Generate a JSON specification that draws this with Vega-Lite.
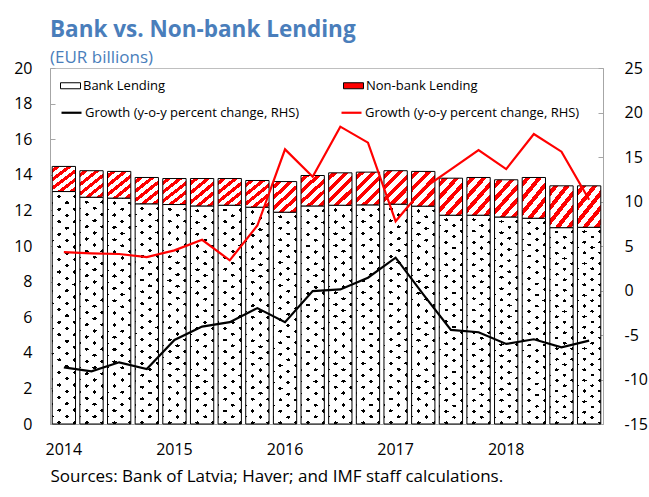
{
  "$schema": "https://vega.github.io/schema/vega-lite/v6.json",
  "width": 553,
  "height": 356,
  "autosize": {"type": "none"},
  "padding": {"left": 50, "top": 68, "right": 46, "bottom": 73},
  "background": "white",
  "config": {
    "font": "Open Sans",
    "view": {"stroke": "#bfbfbf", "strokeWidth": 1},
    "axis": {"grid": false, "labelFont": "Open Sans", "titleFont": "Open Sans", "labelColor": "#000", "labelFontSize": 16, "domainColor": "#a6a6a6", "tickColor": "#a6a6a6"},
    "legend": {"labelFont": "Open Sans", "labelColor": "#000", "labelFontSize": 13, "padding": 0, "labelLimit": 400}
  },
  "title": {
    "text": "Bank vs. Non-bank Lending",
    "subtitle": "(EUR billions)",
    "anchor": "start",
    "frame": "group",
    "font": "Open Sans",
    "fontSize": 22.5,
    "fontWeight": "bold",
    "color": "#4A7EBB",
    "subtitleFont": "Open Sans",
    "subtitleFontSize": 17,
    "subtitleColor": "#4A7EBB",
    "subtitlePadding": 9,
    "offset": -6
  },
  "datasets": {
    "lending": [
      {"q": "2014Q1", "s": "Bank Lending", "v": 13.06}, {"q": "2014Q1", "s": "Non-bank Lending", "v": 1.41},
      {"q": "2014Q2", "s": "Bank Lending", "v": 12.74}, {"q": "2014Q2", "s": "Non-bank Lending", "v": 1.49},
      {"q": "2014Q3", "s": "Bank Lending", "v": 12.69}, {"q": "2014Q3", "s": "Non-bank Lending", "v": 1.50},
      {"q": "2014Q4", "s": "Bank Lending", "v": 12.37}, {"q": "2014Q4", "s": "Non-bank Lending", "v": 1.48},
      {"q": "2015Q1", "s": "Bank Lending", "v": 12.33}, {"q": "2015Q1", "s": "Non-bank Lending", "v": 1.46},
      {"q": "2015Q2", "s": "Bank Lending", "v": 12.25}, {"q": "2015Q2", "s": "Non-bank Lending", "v": 1.54},
      {"q": "2015Q3", "s": "Bank Lending", "v": 12.29}, {"q": "2015Q3", "s": "Non-bank Lending", "v": 1.50},
      {"q": "2015Q4", "s": "Bank Lending", "v": 12.18}, {"q": "2015Q4", "s": "Non-bank Lending", "v": 1.50},
      {"q": "2016Q1", "s": "Bank Lending", "v": 11.90}, {"q": "2016Q1", "s": "Non-bank Lending", "v": 1.72},
      {"q": "2016Q2", "s": "Bank Lending", "v": 12.25}, {"q": "2016Q2", "s": "Non-bank Lending", "v": 1.71},
      {"q": "2016Q3", "s": "Bank Lending", "v": 12.29}, {"q": "2016Q3", "s": "Non-bank Lending", "v": 1.82},
      {"q": "2016Q4", "s": "Bank Lending", "v": 12.31}, {"q": "2016Q4", "s": "Non-bank Lending", "v": 1.84},
      {"q": "2017Q1", "s": "Bank Lending", "v": 12.35}, {"q": "2017Q1", "s": "Non-bank Lending", "v": 1.88},
      {"q": "2017Q2", "s": "Bank Lending", "v": 12.24}, {"q": "2017Q2", "s": "Non-bank Lending", "v": 1.95},
      {"q": "2017Q3", "s": "Bank Lending", "v": 11.73}, {"q": "2017Q3", "s": "Non-bank Lending", "v": 2.08},
      {"q": "2017Q4", "s": "Bank Lending", "v": 11.73}, {"q": "2017Q4", "s": "Non-bank Lending", "v": 2.12},
      {"q": "2018Q1", "s": "Bank Lending", "v": 11.63}, {"q": "2018Q1", "s": "Non-bank Lending", "v": 2.09},
      {"q": "2018Q2", "s": "Bank Lending", "v": 11.56}, {"q": "2018Q2", "s": "Non-bank Lending", "v": 2.29},
      {"q": "2018Q3", "s": "Bank Lending", "v": 11.03}, {"q": "2018Q3", "s": "Non-bank Lending", "v": 2.35},
      {"q": "2018Q4", "s": "Bank Lending", "v": 11.05}, {"q": "2018Q4", "s": "Non-bank Lending", "v": 2.33}
    ],
    "growth": [
      {"q": "2014Q1", "s": "bank", "v": -8.63}, {"q": "2014Q1", "s": "nonbank", "v": 4.32},
      {"q": "2014Q2", "s": "bank", "v": -9.08}, {"q": "2014Q2", "s": "nonbank", "v": 4.18},
      {"q": "2014Q3", "s": "bank", "v": -8.07}, {"q": "2014Q3", "s": "nonbank", "v": 4.10},
      {"q": "2014Q4", "s": "bank", "v": -8.82}, {"q": "2014Q4", "s": "nonbank", "v": 3.76},
      {"q": "2015Q1", "s": "bank", "v": -5.55}, {"q": "2015Q1", "s": "nonbank", "v": 4.51},
      {"q": "2015Q2", "s": "bank", "v": -4.05}, {"q": "2015Q2", "s": "nonbank", "v": 5.70},
      {"q": "2015Q3", "s": "bank", "v": -3.56}, {"q": "2015Q3", "s": "nonbank", "v": 3.39},
      {"q": "2015Q4", "s": "bank", "v": -1.98}, {"q": "2015Q4", "s": "nonbank", "v": 7.30},
      {"q": "2016Q1", "s": "bank", "v": -3.56}, {"q": "2016Q1", "s": "nonbank", "v": 15.86},
      {"q": "2016Q2", "s": "bank", "v": -0.07}, {"q": "2016Q2", "s": "nonbank", "v": 12.78},
      {"q": "2016Q3", "s": "bank", "v": 0.12}, {"q": "2016Q3", "s": "nonbank", "v": 18.41},
      {"q": "2016Q4", "s": "bank", "v": 1.44}, {"q": "2016Q4", "s": "nonbank", "v": 16.61},
      {"q": "2017Q1", "s": "bank", "v": 3.69}, {"q": "2017Q1", "s": "nonbank", "v": 7.78},
      {"q": "2017Q2", "s": "bank", "v": -0.44}, {"q": "2017Q2", "s": "nonbank", "v": 11.46},
      {"q": "2017Q3", "s": "bank", "v": -4.42}, {"q": "2017Q3", "s": "nonbank", "v": 13.60},
      {"q": "2017Q4", "s": "bank", "v": -4.69}, {"q": "2017Q4", "s": "nonbank", "v": 15.78},
      {"q": "2018Q1", "s": "bank", "v": -6.00}, {"q": "2018Q1", "s": "nonbank", "v": 13.64},
      {"q": "2018Q2", "s": "bank", "v": -5.48}, {"q": "2018Q2", "s": "nonbank", "v": 17.59},
      {"q": "2018Q3", "s": "bank", "v": -6.38}, {"q": "2018Q3", "s": "nonbank", "v": 15.60},
      {"q": "2018Q4", "s": "bank", "v": -5.63}, {"q": "2018Q4", "s": "nonbank", "v": 10.20}
    ]
  },
  "encoding": {
    "x": {
      "field": "q",
      "type": "ordinal",
      "scale": {"paddingInner": 0.157, "paddingOuter": 0.08},
      "title": "Sources: Bank of Latvia; Haver; and IMF staff calculations.",
      "axis": {
        "labelExpr": "indexof(datum.value,'Q1')>0 ? substring(datum.value,0,4) : ''",
        "labelAngle": 0,
        "ticks": false,
        "tickSize": 0,
        "labelPadding": 17,
        "labelFontSize": 16,
        "titleAnchor": "start",
        "titleFontWeight": "normal",
        "titleFontSize": 17,
        "titleColor": "#000",
        "titlePadding": 11
      }
    }
  },
  "layer": [
    {
      "data": {"name": "lending"},
      "transform": [
        {"stack": "v", "groupby": ["q"], "sort": [{"field": "s", "order": "ascending"}], "as": ["v0", "v1"]}
      ],
      "encoding": {
        "y": {
          "field": "v0",
          "type": "quantitative",
          "scale": {"domain": [0, 20]},
          "axis": {"orient": "left", "values": [0, 2, 4, 6, 8, 10, 12, 14, 16, 18, 20], "tickSize": -5, "labelPadding": 23, "title": null}
        },
        "y2": {"field": "v1"}
      },
      "layer": [
        {
          "transform": [{"filter": "datum.s === 'Bank Lending'"}],
          "mark": {
            "type": "bar",
            "strokeWidth": 0,
            "fill": {
              "gradient": "linear", "x1": 0, "y1": 1, "x2": 0.0865, "y2": -0.0735,
              "stops": [
                {"offset": 0, "color": "#fff"},
                {"offset": 0.02, "color": "#fff"}, {"offset": 0.02, "color": "#000"}, {"offset": 0.035, "color": "#000"}, {"offset": 0.035, "color": "#fff"},
                {"offset": 0.07, "color": "#fff"}, {"offset": 0.07, "color": "#000"}, {"offset": 0.085, "color": "#000"}, {"offset": 0.085, "color": "#fff"},
                {"offset": 0.12, "color": "#fff"}, {"offset": 0.12, "color": "#000"}, {"offset": 0.135, "color": "#000"}, {"offset": 0.135, "color": "#fff"},
                {"offset": 0.17, "color": "#fff"}, {"offset": 0.17, "color": "#000"}, {"offset": 0.185, "color": "#000"}, {"offset": 0.185, "color": "#fff"},
                {"offset": 0.22, "color": "#fff"}, {"offset": 0.22, "color": "#000"}, {"offset": 0.235, "color": "#000"}, {"offset": 0.235, "color": "#fff"},
                {"offset": 0.27, "color": "#fff"}, {"offset": 0.27, "color": "#000"}, {"offset": 0.285, "color": "#000"}, {"offset": 0.285, "color": "#fff"},
                {"offset": 0.32, "color": "#fff"}, {"offset": 0.32, "color": "#000"}, {"offset": 0.335, "color": "#000"}, {"offset": 0.335, "color": "#fff"},
                {"offset": 0.37, "color": "#fff"}, {"offset": 0.37, "color": "#000"}, {"offset": 0.385, "color": "#000"}, {"offset": 0.385, "color": "#fff"},
                {"offset": 0.42, "color": "#fff"}, {"offset": 0.42, "color": "#000"}, {"offset": 0.435, "color": "#000"}, {"offset": 0.435, "color": "#fff"},
                {"offset": 0.47, "color": "#fff"}, {"offset": 0.47, "color": "#000"}, {"offset": 0.485, "color": "#000"}, {"offset": 0.485, "color": "#fff"},
                {"offset": 0.52, "color": "#fff"}, {"offset": 0.52, "color": "#000"}, {"offset": 0.535, "color": "#000"}, {"offset": 0.535, "color": "#fff"},
                {"offset": 0.57, "color": "#fff"}, {"offset": 0.57, "color": "#000"}, {"offset": 0.585, "color": "#000"}, {"offset": 0.585, "color": "#fff"},
                {"offset": 0.62, "color": "#fff"}, {"offset": 0.62, "color": "#000"}, {"offset": 0.635, "color": "#000"}, {"offset": 0.635, "color": "#fff"},
                {"offset": 0.67, "color": "#fff"}, {"offset": 0.67, "color": "#000"}, {"offset": 0.685, "color": "#000"}, {"offset": 0.685, "color": "#fff"},
                {"offset": 0.72, "color": "#fff"}, {"offset": 0.72, "color": "#000"}, {"offset": 0.735, "color": "#000"}, {"offset": 0.735, "color": "#fff"},
                {"offset": 0.77, "color": "#fff"}, {"offset": 0.77, "color": "#000"}, {"offset": 0.785, "color": "#000"}, {"offset": 0.785, "color": "#fff"},
                {"offset": 0.82, "color": "#fff"}, {"offset": 0.82, "color": "#000"}, {"offset": 0.835, "color": "#000"}, {"offset": 0.835, "color": "#fff"},
                {"offset": 0.87, "color": "#fff"}, {"offset": 0.87, "color": "#000"}, {"offset": 0.885, "color": "#000"}, {"offset": 0.885, "color": "#fff"},
                {"offset": 0.92, "color": "#fff"}, {"offset": 0.92, "color": "#000"}, {"offset": 0.935, "color": "#000"}, {"offset": 0.935, "color": "#fff"},
                {"offset": 0.97, "color": "#fff"}, {"offset": 0.97, "color": "#000"}, {"offset": 0.985, "color": "#000"}, {"offset": 0.985, "color": "#fff"},
                {"offset": 1, "color": "#fff"}
              ]
            }
          }
        },
        {
          "transform": [{"filter": "datum.s === 'Bank Lending'"}],
          "mark": {
            "type": "bar",
            "stroke": "#000",
            "strokeWidth": 1,
            "fill": {
              "gradient": "linear", "x1": 0, "y1": 0, "x2": 0.0865, "y2": 1.0735,
              "stops": [
                {"offset": 0, "color": "#fff"},
                {"offset": 0.035, "color": "#fff"}, {"offset": 0.035, "color": "rgba(255,255,255,0)"}, {"offset": 0.05, "color": "rgba(255,255,255,0)"}, {"offset": 0.05, "color": "#fff"},
                {"offset": 0.085, "color": "#fff"}, {"offset": 0.085, "color": "rgba(255,255,255,0)"}, {"offset": 0.1, "color": "rgba(255,255,255,0)"}, {"offset": 0.1, "color": "#fff"},
                {"offset": 0.135, "color": "#fff"}, {"offset": 0.135, "color": "rgba(255,255,255,0)"}, {"offset": 0.15, "color": "rgba(255,255,255,0)"}, {"offset": 0.15, "color": "#fff"},
                {"offset": 0.185, "color": "#fff"}, {"offset": 0.185, "color": "rgba(255,255,255,0)"}, {"offset": 0.2, "color": "rgba(255,255,255,0)"}, {"offset": 0.2, "color": "#fff"},
                {"offset": 0.235, "color": "#fff"}, {"offset": 0.235, "color": "rgba(255,255,255,0)"}, {"offset": 0.25, "color": "rgba(255,255,255,0)"}, {"offset": 0.25, "color": "#fff"},
                {"offset": 0.285, "color": "#fff"}, {"offset": 0.285, "color": "rgba(255,255,255,0)"}, {"offset": 0.3, "color": "rgba(255,255,255,0)"}, {"offset": 0.3, "color": "#fff"},
                {"offset": 0.335, "color": "#fff"}, {"offset": 0.335, "color": "rgba(255,255,255,0)"}, {"offset": 0.35, "color": "rgba(255,255,255,0)"}, {"offset": 0.35, "color": "#fff"},
                {"offset": 0.385, "color": "#fff"}, {"offset": 0.385, "color": "rgba(255,255,255,0)"}, {"offset": 0.4, "color": "rgba(255,255,255,0)"}, {"offset": 0.4, "color": "#fff"},
                {"offset": 0.435, "color": "#fff"}, {"offset": 0.435, "color": "rgba(255,255,255,0)"}, {"offset": 0.45, "color": "rgba(255,255,255,0)"}, {"offset": 0.45, "color": "#fff"},
                {"offset": 0.485, "color": "#fff"}, {"offset": 0.485, "color": "rgba(255,255,255,0)"}, {"offset": 0.5, "color": "rgba(255,255,255,0)"}, {"offset": 0.5, "color": "#fff"},
                {"offset": 0.535, "color": "#fff"}, {"offset": 0.535, "color": "rgba(255,255,255,0)"}, {"offset": 0.55, "color": "rgba(255,255,255,0)"}, {"offset": 0.55, "color": "#fff"},
                {"offset": 0.585, "color": "#fff"}, {"offset": 0.585, "color": "rgba(255,255,255,0)"}, {"offset": 0.6, "color": "rgba(255,255,255,0)"}, {"offset": 0.6, "color": "#fff"},
                {"offset": 0.635, "color": "#fff"}, {"offset": 0.635, "color": "rgba(255,255,255,0)"}, {"offset": 0.65, "color": "rgba(255,255,255,0)"}, {"offset": 0.65, "color": "#fff"},
                {"offset": 0.685, "color": "#fff"}, {"offset": 0.685, "color": "rgba(255,255,255,0)"}, {"offset": 0.7, "color": "rgba(255,255,255,0)"}, {"offset": 0.7, "color": "#fff"},
                {"offset": 0.735, "color": "#fff"}, {"offset": 0.735, "color": "rgba(255,255,255,0)"}, {"offset": 0.75, "color": "rgba(255,255,255,0)"}, {"offset": 0.75, "color": "#fff"},
                {"offset": 0.785, "color": "#fff"}, {"offset": 0.785, "color": "rgba(255,255,255,0)"}, {"offset": 0.8, "color": "rgba(255,255,255,0)"}, {"offset": 0.8, "color": "#fff"},
                {"offset": 0.835, "color": "#fff"}, {"offset": 0.835, "color": "rgba(255,255,255,0)"}, {"offset": 0.85, "color": "rgba(255,255,255,0)"}, {"offset": 0.85, "color": "#fff"},
                {"offset": 0.885, "color": "#fff"}, {"offset": 0.885, "color": "rgba(255,255,255,0)"}, {"offset": 0.9, "color": "rgba(255,255,255,0)"}, {"offset": 0.9, "color": "#fff"},
                {"offset": 0.935, "color": "#fff"}, {"offset": 0.935, "color": "rgba(255,255,255,0)"}, {"offset": 0.95, "color": "rgba(255,255,255,0)"}, {"offset": 0.95, "color": "#fff"},
                {"offset": 0.985, "color": "#fff"}, {"offset": 0.985, "color": "rgba(255,255,255,0)"}, {"offset": 1, "color": "rgba(255,255,255,0)"}
              ]
            }
          }
        },
        {
          "transform": [{"filter": "datum.s === 'Non-bank Lending'"}],
          "mark": {"type": "bar", "stroke": "#000", "strokeWidth": 1},
          "encoding": {
            "fill": {
              "field": "s",
              "type": "nominal",
              "scale": {"domain": ["Bank Lending", "Non-bank Lending"], "range": ["#ffffff", "#ff0000"]},
              "legend": {
                "title": null,
                "orient": "none",
                "legendX": 10,
                "legendY": 7,
                "columns": 2,
                "columnPadding": 175,
                "symbolType": "M-1,-0.3H1V0.3H-1Z",
                "symbolSize": 400,
                "symbolStrokeColor": "#000",
                "symbolStrokeWidth": 1,
                "labelOffset": 2,
                "encode": {
                  "symbols": {
                    "update": {
                      "stroke": {"value": "#000000"},
                      "strokeWidth": {"value": 1},
                      "fill": [
                        {
                          "test": "datum.value === 'Non-bank Lending'",
                          "value": {
                            "gradient": "linear", "x1": 0, "y1": 0, "x2": 1, "y2": 1,
                            "stops": [
                              {"offset": 0, "color": "#f00"}, {"offset": 0.4, "color": "#f00"}, {"offset": 0.4, "color": "#fff"},
                              {"offset": 0.62, "color": "#fff"}, {"offset": 0.62, "color": "#f00"}, {"offset": 1, "color": "#f00"}
                            ]
                          }
                        },
                        {"value": "#ffffff"}
                      ]
                    }
                  }
                }
              },
              "condition": {
                "test": "true",
                "value": {
                  "gradient": "linear", "x1": 0, "y1": 0, "x2": 0.8, "y2": 1.14,
                  "stops": [
                    {"offset": 0, "color": "#fff"},
                    {"offset": 0.06, "color": "#fff"}, {"offset": 0.06, "color": "#f00"}, {"offset": 0.152, "color": "#f00"}, {"offset": 0.152, "color": "#fff"},
                    {"offset": 0.264, "color": "#fff"}, {"offset": 0.264, "color": "#f00"}, {"offset": 0.356, "color": "#f00"}, {"offset": 0.356, "color": "#fff"},
                    {"offset": 0.468, "color": "#fff"}, {"offset": 0.468, "color": "#f00"}, {"offset": 0.56, "color": "#f00"}, {"offset": 0.56, "color": "#fff"},
                    {"offset": 0.672, "color": "#fff"}, {"offset": 0.672, "color": "#f00"}, {"offset": 0.764, "color": "#f00"}, {"offset": 0.764, "color": "#fff"},
                    {"offset": 0.876, "color": "#fff"}, {"offset": 0.876, "color": "#f00"}, {"offset": 0.968, "color": "#f00"}, {"offset": 0.968, "color": "#fff"},
                    {"offset": 1, "color": "#fff"}
                  ]
                }
              }
            }
          }
        }
      ]
    },
    {
      "data": {"name": "growth"},
      "mark": {"type": "line", "strokeWidth": 2.2},
      "encoding": {
        "y": {
          "field": "v",
          "type": "quantitative",
          "scale": {"domain": [-15, 25]},
          "axis": {"orient": "right", "values": [-15, -10, -5, 0, 5, 10, 15, 20, 25], "tickSize": -5, "labelPadding": 26, "title": null, "labelExpr": "replace(datum.label, '−', '-')"}
        },
        "stroke": {
          "field": "s",
          "type": "nominal",
          "scale": {"domain": ["bank", "nonbank"], "range": ["#000000", "#ff0000"]},
          "legend": {
            "title": null,
            "orient": "none",
            "legendX": 10,
            "legendY": 33,
            "columns": 2,
            "columnPadding": 37,
            "symbolType": "stroke",
            "symbolSize": 400,
            "symbolStrokeWidth": 2.2,
            "labelOffset": 2,
            "labelExpr": "'Growth (y-o-y percent change, RHS)'"
          }
        }
      }
    }
  ],
  "resolve": {"scale": {"y": "independent"}}
}
